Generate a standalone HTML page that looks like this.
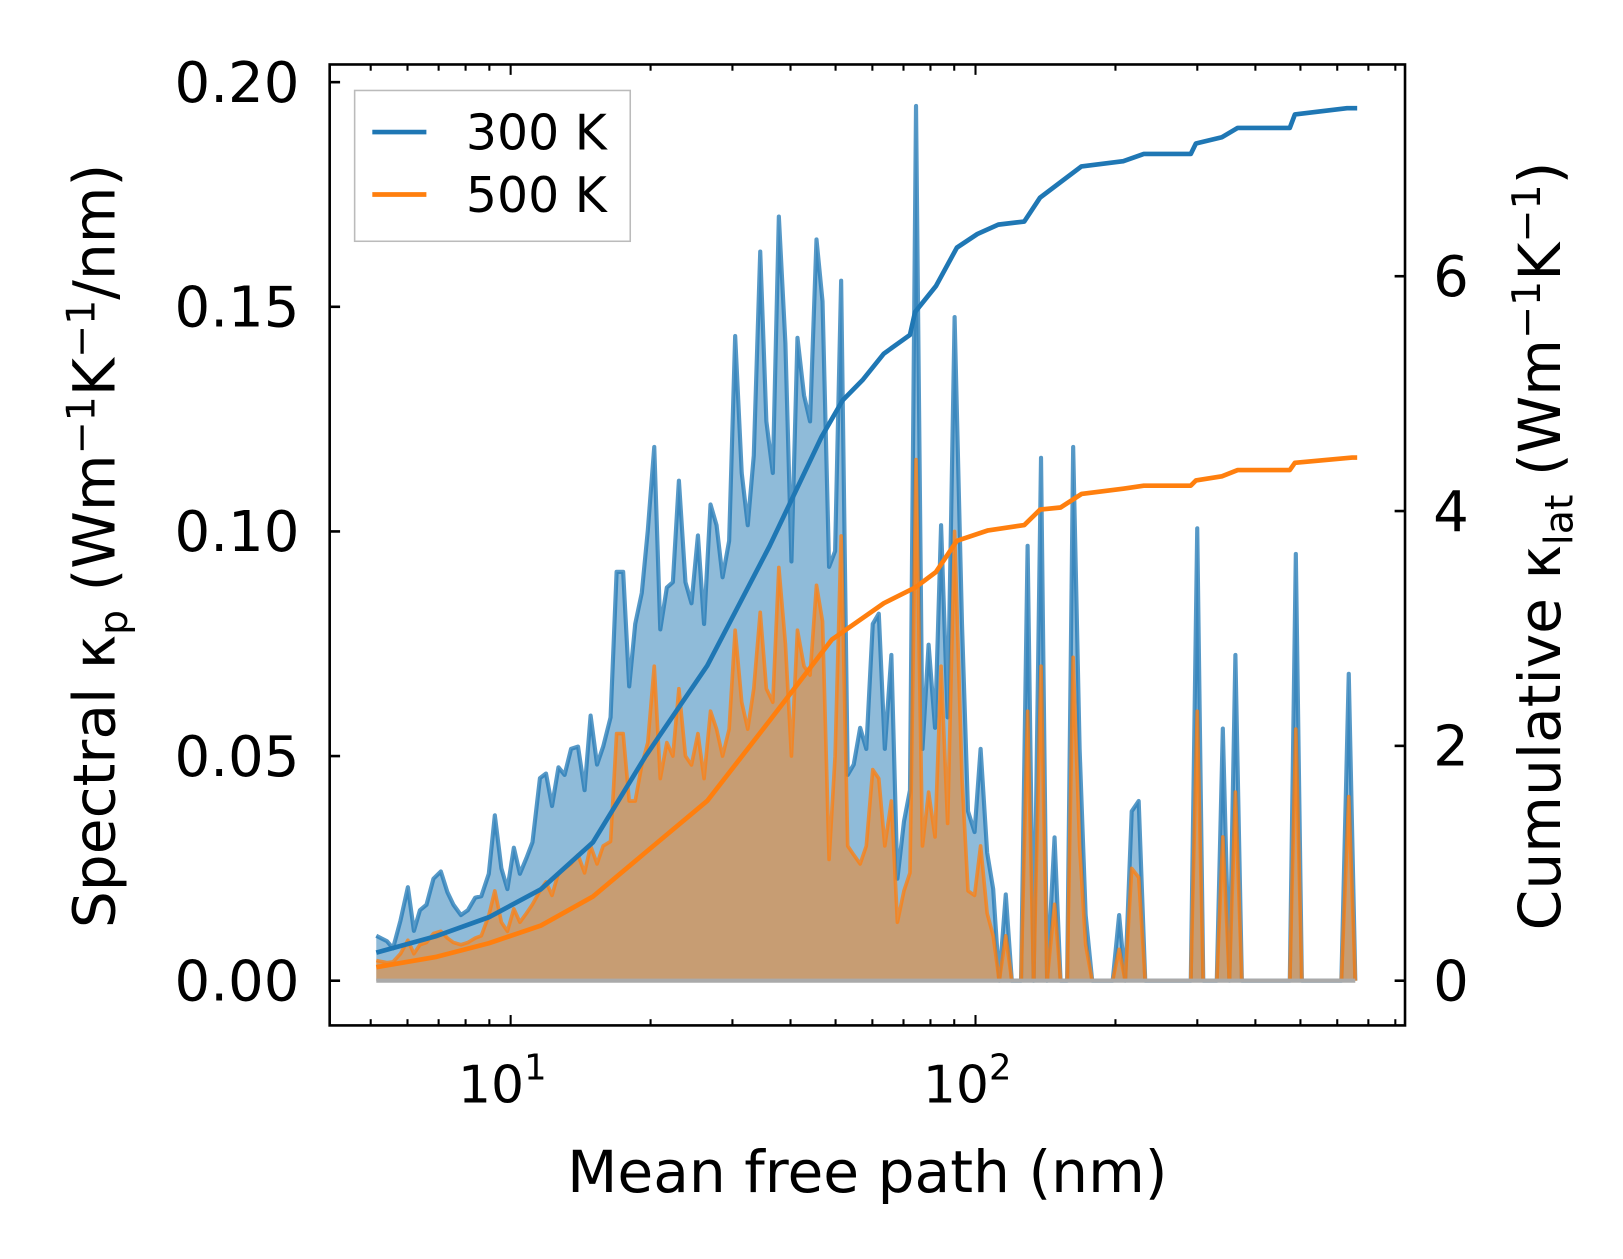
<!DOCTYPE html>
<html><head><meta charset="utf-8"><style>
html,body{margin:0;padding:0;background:#fff;}
svg{display:block;font-family:"DejaVu Sans","Liberation Sans",sans-serif;}
</style></head><body>
<svg id="chart" width="1623" height="1259" viewBox="0 0 1560.6 1210.6" preserveAspectRatio="none" xmlns="http://www.w3.org/2000/svg">
<rect width="1560.6" height="1210.6" fill="#fff"/>
<g id="plot"></g>
<g id="axes"></g>
<text x="834" y="1146" font-size="56" text-anchor="middle">Mean free path (nm)</text>
<text transform="translate(110,525) rotate(-90)" font-size="56" text-anchor="middle">Spectral κ<tspan font-size="38" dy="12">p</tspan><tspan dy="-12"> (Wm</tspan><tspan font-size="38" dy="-19">−1</tspan><tspan dy="19">K</tspan><tspan font-size="38" dy="-19">−1</tspan><tspan dy="19">/nm)</tspan></text>
<text transform="translate(1500,525) rotate(-90)" font-size="56" text-anchor="middle">Cumulative κ<tspan font-size="38" dy="12">lat</tspan><tspan dy="-12"> (Wm</tspan><tspan font-size="38" dy="-19">−1</tspan><tspan dy="19">K</tspan><tspan font-size="38" dy="-19">−1</tspan><tspan dy="19">)</tspan></text>
<g>
<rect x="341" y="87" width="265" height="145" fill="#fff" stroke="#bbb" stroke-width="1.5"/>
<line x1="358" y1="127" x2="410" y2="127" stroke="#1f77b4" stroke-width="4.5"/>
<text x="448" y="144" font-size="47">300 K</text>
<line x1="358" y1="187" x2="410" y2="187" stroke="#ff7f0e" stroke-width="4.5"/>
<text x="448" y="204" font-size="47">500 K</text>
</g>
</svg>
<script>
// log10 of mean free path (nm) for spectral series
const mfpLog10 = [0.711,0.734,0.747,0.763,0.779,0.792,0.805,0.819,0.834,0.850,0.864,0.877,0.893,0.908,0.924,0.937,0.953,0.966,0.980,0.993,1.007,1.020,1.034,1.047,1.063,1.076,1.089,1.103,1.116,1.130,1.145,1.159,1.172,1.186,1.199,1.215,1.228,1.242,1.255,1.268,1.282,1.295,1.309,1.322,1.336,1.349,1.362,1.376,1.389,1.403,1.416,1.430,1.443,1.456,1.470,1.483,1.497,1.510,1.523,1.537,1.550,1.564,1.577,1.591,1.604,1.617,1.631,1.644,1.658,1.671,1.685,1.698,1.711,1.725,1.738,1.752,1.765,1.779,1.792,1.805,1.819,1.832,1.846,1.859,1.872,1.886,1.899,1.913,1.926,1.940,1.955,1.971,1.984,1.998,2.011,2.025,2.038,2.051,2.065,2.078,2.092,2.098,2.112,2.125,2.141,2.154,2.170,2.183,2.197,2.210,2.224,2.237,2.251,2.295,2.309,2.322,2.336,2.351,2.365,2.463,2.477,2.490,2.519,2.532,2.546,2.559,2.573,2.676,2.689,2.702,2.787,2.803,2.817];
const spectral300 = [.0100,.0088,.0072,.0134,.0208,.0111,.0157,.0169,.0227,.0243,.0197,.0169,.0146,.0157,.0185,.0188,.0238,.0368,.025,.0204,.0296,.0238,.0273,.0308,.0451,.0461,.0389,.0475,.0458,.0516,.0521,.0424,.059,.0481,.0521,.0586,.091,.091,.0655,.0794,.0863,.1002,.1188,.0782,.0875,.0887,.1113,.0887,.084,.0991,.0794,.106,.1014,.0898,.0979,.1435,.113,.1014,.1169,.1623,.1245,.113,.1701,.1419,.0933,.1431,.1303,.1245,.165,.1512,.0921,.0956,.1558,.0458,.0481,.0563,.0516,.0794,.0817,.0516,.0725,.0227,.0354,.0424,.1947,.0516,.0748,.0563,.1014,.0586,.1477,.0794,.0377,.0331,.0516,.0285,.0204,0,.0192,0,0,0,.0968,0,.1164,0,.0319,0,0,.1188,.0516,.0146,0,0,.0146,0,.0377,.04,0,0,.1007,0,0,.0561,0,.0725,0,0,.095,0,0,.0683,0];
const spectral500 = [.0045,.0040,.0042,.0060,.0090,.0060,.0080,.0085,.0105,.0110,.0095,.0085,.0080,.0085,.0095,.0100,.0145,.0200,.0130,.0110,.0160,.0130,.0150,.0170,.0200,.0220,.0190,.0240,.0250,.0260,.0280,.0240,.0300,.0260,.0300,.0310,.0550,.0550,.0400,.0400,.0480,.0530,.0700,.0450,.0530,.0500,.0650,.0500,.0480,.0550,.0450,.0600,.0560,.0500,.0560,.0780,.0620,.0560,.0650,.0820,.0650,.0620,.0920,.0750,.0500,.0780,.0700,.0680,.0880,.0800,.0270,.0500,.0990,.0300,.0280,.0260,.0300,.0470,.0450,.0300,.0400,.0130,.0200,.0240,.1160,.0300,.0420,.0320,.0700,.0350,.1000,.0450,.0200,.0190,.0300,.0150,.0100,0,.0100,0,0,0,.0600,0,.0700,0,.0170,0,0,.0720,.0300,.0080,0,0,.0070,0,.0250,.0230,0,0,.0600,0,0,.0320,0,.0420,0,0,.0560,0,0,.0410,0];
const cum300Log10 = [0.711,0.841,0.953,1.065,1.177,1.289,1.423,1.557,1.669,1.714,1.758,1.803,1.859,1.870,1.915,1.960,2.004,2.049,2.105,2.139,2.183,2.228,2.318,2.362,2.463,2.474,2.530,2.564,2.676,2.687,2.799,2.821];
const cum300 = [0.239,0.381,0.540,0.779,1.178,1.904,2.684,3.702,4.632,4.942,5.120,5.341,5.500,5.695,5.917,6.244,6.360,6.439,6.466,6.670,6.802,6.935,6.980,7.042,7.042,7.130,7.183,7.263,7.263,7.378,7.431,7.431];
const cum500Log10 = [0.711,0.841,0.953,1.065,1.177,1.289,1.423,1.557,1.691,1.803,1.870,1.915,1.960,2.027,2.105,2.139,2.183,2.228,2.318,2.362,2.463,2.474,2.530,2.564,2.676,2.687,2.810,2.821];
const cum500 = [0.115,0.204,0.319,0.469,0.717,1.089,1.532,2.214,2.905,3.215,3.348,3.481,3.747,3.835,3.880,4.012,4.030,4.145,4.190,4.216,4.216,4.260,4.296,4.349,4.349,4.411,4.455,4.455];
const leftTicks = [0, 0.05, 0.10, 0.15, 0.20];
const leftTickLabels = ["0.00","0.05","0.10","0.15","0.20"];
const rightTicks = [0, 2, 4, 6];
const xMajorExp = [1, 2];

const NS = "http://www.w3.org/2000/svg";
const X0 = 317, X1 = 1351, Y0 = 62, Y1 = 986;
function xs(e){ return 491 + (e - 1) * 447; }
function yl(v){ return 943 - v * 4320; }
function yr(v){ return 943 - v * 112.9; }
function mk(tag, attrs, parent){ const el = document.createElementNS(NS, tag); for (const k in attrs) el.setAttribute(k, attrs[k]); parent.appendChild(el); return el; }
const plot = document.getElementById('plot'), axes = document.getElementById('axes');

function areaPath(xsArr, ys){
  let d = `M${xs(xsArr[0])},${yl(0)}`;
  xsArr.forEach((e,i)=>{ d += `L${xs(e).toFixed(1)},${yl(ys[i]).toFixed(1)}`; });
  d += `L${xs(xsArr[xsArr.length-1])},${yl(0)}Z`; return d;
}
function linePath(xsArr, ys, yf){
  return xsArr.map((e,i)=>(i?'L':'M')+xs(e).toFixed(1)+','+yf(ys[i]).toFixed(1)).join('');
}
const a300 = mk('path', {d: areaPath(mfpLog10, spectral300), fill:'rgba(31,119,180,0.5)', stroke:'none'}, plot);


const l300 = mk('path', {d: linePath(mfpLog10, spectral300, yl), fill:'none', stroke:'rgba(31,119,180,0.75)', 'stroke-width':4, 'stroke-linejoin':'round'}, plot);


const a500 = mk('path', {d: areaPath(mfpLog10, spectral500), fill:'rgba(255,127,14,0.5)', stroke:'none'}, plot);


const l500 = mk('path', {d: linePath(mfpLog10, spectral500, yl), fill:'none', stroke:'rgba(255,127,14,0.75)', 'stroke-width':3.5, 'stroke-linejoin':'round'}, plot);


const base = mk('line', {x1: xs(mfpLog10[0]), x2: xs(mfpLog10[mfpLog10.length-1]), y1: yl(0), y2: yl(0), stroke:'#aaa', 'stroke-width':4}, plot);


const c300 = mk('path', {d: linePath(cum300Log10, cum300, yr), fill:'none', stroke:'#1f77b4', 'stroke-width':4.5, 'stroke-linejoin':'round'}, plot);


const c500 = mk('path', {d: linePath(cum500Log10, cum500, yr), fill:'none', stroke:'#ff7f0e', 'stroke-width':4.5, 'stroke-linejoin':'round'}, plot);



const frame = mk('rect', {x:X0, y:Y0, width:X1-X0, height:Y1-Y0, fill:'none', stroke:'#000', 'stroke-width':2.5}, axes);


leftTicks.forEach((v,i)=>{
  mk('line', {x1:X0, x2:X0+10, y1:yl(v), y2:yl(v), stroke:'#000', 'stroke-width':2.5}, axes);
  const t = mk('text', {x:288, y:yl(v)+19, 'font-size':54, 'text-anchor':'end'}, axes);
  t.textContent = leftTickLabels[i];
  
  
});
rightTicks.forEach(v=>{
  mk('line', {x1:X1-10, x2:X1, y1:yr(v), y2:yr(v), stroke:'#000', 'stroke-width':2.5}, axes);
  const t = mk('text', {x:1378, y:yr(v)+19, 'font-size':54}, axes);
  t.textContent = String(v);
  
  
});
for (let d = 0; d <= 2; d++){
  for (let m = 1; m <= 9; m++){
    const e = d + Math.log10(m), x = xs(e);
    if (x < X0 || x > X1) continue;
    const len = m === 1 ? 10 : 6;
    mk('line', {x1:x, x2:x, y1:Y1, y2:Y1-len, stroke:'#000', 'stroke-width':2}, axes);
    mk('line', {x1:x, x2:x, y1:Y0, y2:Y0+len, stroke:'#000', 'stroke-width':2}, axes);
  }
}
xMajorExp.forEach(e=>{
  const t = mk('text', {x:xs(e)-8, y:1060, 'font-size':50, 'text-anchor':'middle'}, axes);
  t.textContent = '10';
  const s = mk('tspan', {'font-size':34, dy:-22}, t);
  s.textContent = String(e);
  
  
});
</script>
</body></html>
